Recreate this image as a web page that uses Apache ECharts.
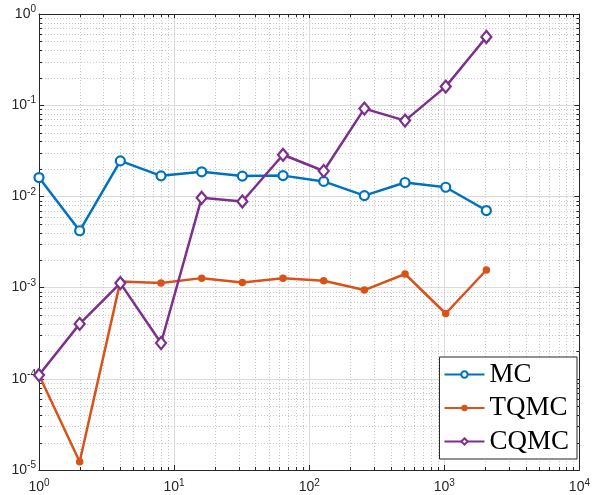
<!DOCTYPE html>
<html><head><meta charset="utf-8">
<script src="https://cdn.jsdelivr.net/npm/echarts@6/dist/echarts.min.js"></script>
<style>html,body{margin:0;padding:0;background:#fff}#c{width:593px;height:495px}</style>
</head><body><div id="c"></div>
<script>
const xs = [1, 2, 4, 8, 16, 32, 64, 128, 256, 512, 1024, 2048];
const mc = [0.0161, 0.0042, 0.0245, 0.0168, 0.0186, 0.0167, 0.0169, 0.0146, 0.0102, 0.0142, 0.0126, 0.0070];
const tqmc = [1.1e-4, 1.23e-5, 1.17e-3, 1.12e-3, 1.27e-3, 1.14e-3, 1.27e-3, 1.19e-3, 9.4e-4, 1.41e-3, 5.2e-4, 1.56e-3];
const cqmc = [1.1e-4, 4.0e-4, 1.12e-3, 2.47e-4, 9.65e-3, 8.8e-3, 0.0286, 0.019, 0.0918, 0.0678, 0.16, 0.56];
const seriesNames = ['MC', 'TQMC', 'CQMC'];
const colors = ['#0072BD', '#D95319', '#7E2F8E'];
const xRange = [1, 10000];
const yRange = [1e-5, 1];

// minor grid positions (2..9 times each decade)
const minorItems = [];
for (let d = 1; d < xRange[1]; d *= 10) for (let k = 2; k <= 9; k++) minorItems.push({value: [d * k, 1e-3, 0]});
for (let d = yRange[0]; d < yRange[1] * 0.99; d *= 10) for (let k = 2; k <= 9; k++) minorItems.push({value: [10, d * k, 1]});

const axisColor = '#262626';
const fmt = v => { const e = Math.round(Math.log10(v)); return '{b|10}{s|' + e + '}'; };
const rich = {
  b: {fontFamily: 'Liberation Sans', fontSize: 14, color: axisColor},
  s: {fontFamily: 'Liberation Sans', fontSize: 10, color: axisColor, padding: [0, 0, 9, 0]}
};

const chart = echarts.init(document.getElementById('c'), null, {renderer: 'canvas'});
const mk = (arr) => xs.map((x, i) => [x, arr[i]]);
chart.setOption({
  animation: false,
  backgroundColor: '#fff',
  grid: {left: 39, top: 14, right: 8, bottom: 25, containLabel: false},
  xAxis: [
    {type: 'log', logBase: 10, min: xRange[0], max: xRange[1], position: 'bottom',
     axisLine: {show: true, onZero: false, lineStyle: {color: axisColor, width: 1}},
     axisTick: {show: true, inside: true, length: 5, lineStyle: {color: axisColor}},
     axisLabel: {formatter: fmt, rich: rich, margin: 8},
     splitLine: {show: true, lineStyle: {color: '#dcdcdc', width: 1}}},
    {type: 'log', logBase: 10, min: xRange[0], max: xRange[1], position: 'top',
     axisLine: {show: true, onZero: false, lineStyle: {color: axisColor, width: 1}},
     axisTick: {show: true, inside: true, length: 5, lineStyle: {color: axisColor}},
     axisLabel: {show: false}, splitLine: {show: false}}
  ],
  yAxis: [
    {type: 'log', logBase: 10, min: yRange[0], max: yRange[1], position: 'left',
     axisLine: {show: true, onZero: false, lineStyle: {color: axisColor, width: 1}},
     axisTick: {show: true, inside: true, length: 5, lineStyle: {color: axisColor}},
     axisLabel: {formatter: fmt, rich: rich, margin: 3},
     splitLine: {show: true, lineStyle: {color: '#dcdcdc', width: 1}}},
    {type: 'log', logBase: 10, min: yRange[0], max: yRange[1], position: 'right',
     axisLine: {show: true, onZero: false, lineStyle: {color: axisColor, width: 1}},
     axisTick: {show: true, inside: true, length: 5, lineStyle: {color: axisColor}},
     axisLabel: {show: false}, splitLine: {show: false}}
  ],
  legend: {
    right: 16, top: 357, orient: 'vertical', align: 'left',
    backgroundColor: '#fff', borderColor: axisColor, borderWidth: 1,
    padding: [2, 8, 2, 4], itemWidth: 40, itemHeight: 8, itemGap: 2.5,
    textStyle: {fontFamily: 'Liberation Serif', fontSize: 27, color: '#000', lineHeight: 31},
    data: seriesNames
  },
  series: [
    {type: 'custom', silent: true, z: 1, xAxisIndex: 0, yAxisIndex: 0, data: minorItems,
     encode: {x: 0, y: 1},
     renderItem: (params, api) => {
       const cs = params.coordSys;
       const axis = api.value(2);
       const dotted = {stroke: '#c8c8c8', lineWidth: 1, lineDash: [1, 2]};
       const tick = {stroke: axisColor, lineWidth: 1};
       if (axis === 0) {
         const px = Math.round(api.coord([api.value(0), 1e-3])[0]) + 0.5;
         return {type: 'group', children: [
           {type: 'line', shape: {x1: px, y1: cs.y, x2: px, y2: cs.y + cs.height}, style: dotted},
           {type: 'line', shape: {x1: px, y1: cs.y + cs.height, x2: px, y2: cs.y + cs.height - 3}, style: tick},
           {type: 'line', shape: {x1: px, y1: cs.y, x2: px, y2: cs.y + 3}, style: tick}
         ]};
       } else {
         const py = Math.round(api.coord([10, api.value(1)])[1]) + 0.5;
         return {type: 'group', children: [
           {type: 'line', shape: {x1: cs.x, y1: py, x2: cs.x + cs.width, y2: py}, style: dotted},
           {type: 'line', shape: {x1: cs.x, y1: py, x2: cs.x + 3, y2: py}, style: tick},
           {type: 'line', shape: {x1: cs.x + cs.width, y1: py, x2: cs.x + cs.width - 3, y2: py}, style: tick}
         ]};
       }
     }},
    {name: seriesNames[0], type: 'line', data: mk(mc), z: 3, color: colors[0],
     symbol: 'circle', symbolSize: 9, lineStyle: {width: 2.5, color: colors[0]},
     itemStyle: {color: '#fff', borderColor: colors[0], borderWidth: 2.2}},
    {name: seriesNames[1], type: 'line', data: mk(tqmc), z: 3, color: colors[1],
     symbol: 'circle', symbolSize: 7.5, lineStyle: {width: 2.5, color: colors[1]},
     itemStyle: {color: colors[1], borderColor: colors[1], borderWidth: 0}},
    {name: seriesNames[2], type: 'line', data: mk(cqmc), z: 3, color: colors[2],
     symbol: 'diamond', symbolSize: [10, 12], lineStyle: {width: 2.5, color: colors[2]},
     itemStyle: {color: '#fff', borderColor: colors[2], borderWidth: 2.2}}
  ]
});
</script></body></html>
